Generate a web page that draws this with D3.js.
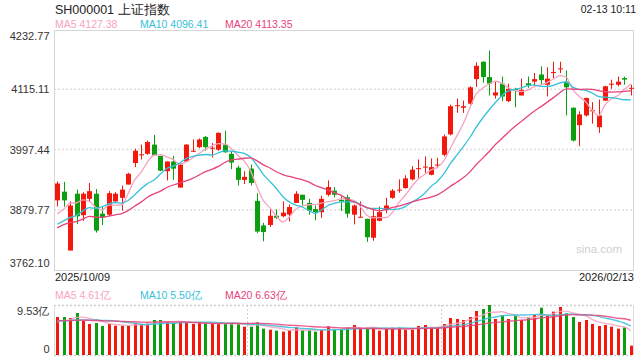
<!DOCTYPE html>
<html><head><meta charset="utf-8">
<script src="https://cdn.jsdelivr.net/npm/d3@7"></script>
<style>body{margin:0;background:#fff}svg{display:block;font-family:"Liberation Sans",Arial,sans-serif}</style>
</head><body><svg id="c" width="640" height="360"></svg>
<script>
// ---------- data ----------
const symbolTitle = "SH000001 上证指数";
const timeStamp = "02-13 10:11";
const priceTicks = [4232.77, 4115.11, 3997.44, 3879.77, 3762.10];
const volumeTicks = [0, 9.53];
const dateLabels = ["2025/10/09", "2026/02/13"];
const maNames = ["MA5", "MA10", "MA20"];
const maLegend = [4127.38, 4096.41, 4113.35];
const volMaLegend = [4.61, 5.50, 6.63];

const openP = [3898,3915,3800,3911,3869,3901,3911,3872,3870,3896,3903,3929,3971,3986,3989,4007,3985,3955,3974,3923,
3974,3993,4002,4022,3999,3997,4007,3989,3962,3938,3960,3897,3849,3850,3868,3867,3870,3893,3909,3893,
3881,3875,3909,3917,3899,3904,3870,3865,3862,3825,3858,3879,3903,3918,3922,3939,3960,3963,3948,3967,
3987,4027,4083,4079,4087,4135,4169,4139,4103,4126,4092,4116,4103,4127,4130,4144,4124,4148,4155,4130,
4079,4045,4064,4073,4041,4093,4125,4124,4137,4117];
const highP = [3935,3934,3896,3919,3914,3932,3920,3886,3916,3914,3927,3952,3999,4007,4015,4026,3985,3974,3985,3970,
4008,4017,4019,4024,4010,4031,4034,3994,3966,3955,3968,3912,3854,3881,3880,3896,3890,3916,3909,3901,
3888,3907,3937,3924,3906,3909,3890,3896,3862,3883,3886,3903,3920,3939,3947,3965,3978,3984,3980,3981,
4027,4085,4097,4093,4121,4168,4170,4191,4131,4140,4126,4118,4136,4140,4147,4160,4158,4169,4169,4152,
4080,4072,4099,4090,4095,4122,4134,4140,4140,4124];
const lowP = [3886,3886,3800,3852,3858,3895,3835,3850,3867,3894,3878,3929,3963,3978,3987,3986,3955,3937,3938,3923,
3973,3993,4000,3995,3982,3995,3991,3959,3927,3930,3927,3834,3818,3846,3862,3865,3857,3893,3888,3870,
3859,3864,3906,3904,3877,3864,3851,3865,3817,3819,3857,3873,3901,3913,3921,3937,3942,3952,3947,3961,
3984,4025,4069,4069,4085,4120,4128,4103,4097,4092,4090,4080,4103,4118,4122,4124,4101,4137,4147,4064,
4013,4004,4062,4048,4030,4092,4116,4121,4124,4103];
const closeP = [3931,3898,3888,3867,3911,3916,3839,3865,3912,3911,3919,3950,3995,3988,4012,3986,3956,3974,3960,3968,
4007,3995,4017,4002,4001,4030,3992,3972,3938,3944,3932,3837,3836,3868,3864,3874,3885,3911,3899,3878,
3875,3901,3924,3909,3896,3872,3888,3866,3826,3867,3875,3888,3917,3919,3941,3958,3961,3964,3963,3968,
4023,4082,4084,4082,4119,4161,4139,4126,4109,4101,4116,4113,4114,4123,4135,4133,4136,4149,4156,4119,
4015,4066,4098,4074,4064,4121,4126,4130,4134,4118];
const volumes = [7.24,7.24,7.05,8.00,6.54,5.91,6.10,5.53,5.91,5.59,5.59,5.59,6.04,5.91,5.97,6.67,6.67,6.35,6.16,6.35,
6.22,5.91,6.22,5.91,5.91,5.91,6.04,5.91,5.91,5.40,5.40,6.22,5.02,4.83,4.64,4.45,4.70,5.27,4.70,4.70,
4.45,4.83,5.46,4.89,4.86,5.21,5.72,5.21,5.08,5.21,4.64,5.08,5.21,5.21,4.83,4.83,5.53,5.72,5.27,5.15,
5.91,7.05,6.86,6.67,7.24,8.39,8.77,9.53,6.86,7.62,6.86,7.49,6.67,7.11,7.62,9.02,7.49,8.26,9.15,7.94,
7.24,6.29,6.67,5.91,5.53,5.72,5.40,5.02,5.27,1.78];
// closes / volumes of the 19 sessions before the window (needed for the moving averages)
const priorCloses = [3765.9,3812.5,3826.8,3807.3,3812.2,3875.3,3870.6,3860.5,3861.9,3876.3,3831.7,3820.1,3828.6,3821.8,3853.6,3853.3,3828.1,3862.5,3882.8];
const priorVolumes = [6.3,6.8,6.5,6.2,7.0,6.6,6.4,6.9,6.3,6.2,6.9,6.5,7.1,6.4,6.2,6.0,6.3,5.9,6.3];
const maPeriods = [5, 10, 20];
const holidays = ["2026-01-01", "2026-01-02"];

// ---------- trading dates ----------
const dates = [];
for (let d = new Date(Date.UTC(2025,9,9)); d <= new Date(Date.UTC(2026,1,13)); d.setUTCDate(d.getUTCDate()+1)) {
  const wd = d.getUTCDay(), s = d.toISOString().slice(0,10);
  if (wd !== 0 && wd !== 6 && !holidays.includes(s)) dates.push(s);
}
const n = closeP.length;
const cats = dates.length === n ? dates : d3.range(n).map(String);

// ---------- style ----------
const UP = "#f2180b", DOWN = "#0b9f0f";
const maColors = ["#f7a3c0", "#37c1d9", "#e8437a"];
const L = 54, R = 634;
const svg = d3.select("#c");

const x = d3.scaleBand().domain(cats).range([L, R]).padding(0);
const cx = i => x(cats[i]) + x.bandwidth() / 2;
const y = d3.scaleLinear().domain([priceTicks[4], priceTicks[0]]).range([269.9, 29.1]);
const yv = d3.scaleLinear().domain([volumeTicks[0], volumeTicks[1]]).range([355, 305]);

function movingAvg(prior, vals, p) {
  const all = prior.concat(vals), off = prior.length;
  return vals.map((_, i) => d3.mean(all.slice(off + i - p + 1, off + i + 1)));
}

// ---------- header ----------
svg.append("text").attr("x", 55).attr("y", 13.5).attr("font-size", 12.5).attr("fill", "#222").text(symbolTitle);
svg.append("text").attr("x", 636).attr("y", 13).attr("font-size", 10.5).attr("text-anchor", "end").attr("fill", "#222").text(timeStamp);
const legX = [55, 140, 225];
maNames.forEach((m, k) => {
  svg.append("text").attr("x", legX[k]).attr("y", 27.5).attr("font-size", 10.5).attr("fill", maColors[k])
    .text(m + " " + maLegend[k].toFixed(2));
});

// ---------- main panel ----------
const gridVals = priceTicks.slice(1, 4);
svg.append("g").selectAll("line").data(gridVals).join("line")
  .attr("x1", L).attr("x2", R).attr("y1", d => y(d)).attr("y2", d => y(d))
  .attr("stroke", "#dedede").attr("stroke-width", 1.5).attr("stroke-dasharray", "2,2");
svg.append("rect").attr("x", L + 0.5).attr("y", 30.5).attr("width", R - L - 1).attr("height", 240)
  .attr("fill", "none").attr("stroke", "#d6d6d6");

const yAxis = d3.axisLeft(y).tickValues(priceTicks).tickFormat(d3.format(".2f")).tickSize(0).tickPadding(4);
const ya = svg.append("g").attr("transform", `translate(${L - 0.5},0)`).call(yAxis);
ya.select(".domain").remove();
ya.selectAll("text").attr("font-size", 11).attr("fill", "#333").attr("font-family", "Liberation Sans, Arial, sans-serif")
  .attr("dy", (d, i) => i === 0 ? "0.95em" : (i === 4 ? "-0.3em" : "0.32em"));

svg.append("text").attr("x", 622).attr("y", 253).attr("font-size", 11.5).attr("text-anchor", "end").attr("fill", "#cfcfcf").text("sina.com");

const idx = d3.range(n);
const cg = svg.append("g");
cg.selectAll("line").data(idx).join("line")
  .attr("x1", i => Math.round(cx(i)) + 0.5).attr("x2", i => Math.round(cx(i)) + 0.5)
  .attr("y1", i => y(highP[i])).attr("y2", i => y(lowP[i]))
  .attr("stroke", i => closeP[i] >= openP[i] ? UP : DOWN).attr("stroke-width", 1);
cg.selectAll("rect").data(idx).join("rect")
  .attr("x", i => Math.round(cx(i)) - 2).attr("width", 5)
  .attr("y", i => y(Math.max(openP[i], closeP[i])))
  .attr("height", i => Math.max(1, Math.abs(y(openP[i]) - y(closeP[i]))))
  .attr("fill", i => closeP[i] >= openP[i] ? UP : DOWN);

const priceLine = d3.line().x((d, i) => cx(i)).y(d => y(d)).curve(d3.curveMonotoneX);
maPeriods.forEach((p, k) => {
  svg.append("path").datum(movingAvg(priorCloses, closeP, p)).attr("d", priceLine)
    .attr("fill", "none").attr("stroke", maColors[k]).attr("stroke-width", 1.3);
});

svg.append("text").attr("x", 55).attr("y", 281).attr("font-size", 11).attr("fill", "#222").text(dateLabels[0]);
svg.append("text").attr("x", 634).attr("y", 281).attr("font-size", 11).attr("text-anchor", "end").attr("fill", "#222").text(dateLabels[1]);

// ---------- volume panel ----------
maNames.forEach((m, k) => {
  svg.append("text").attr("x", legX[k]).attr("y", 299).attr("font-size", 10.5).attr("fill", maColors[k])
    .text(m + " " + volMaLegend[k].toFixed(2) + "亿");
});
svg.append("g").selectAll("line").data(volumeTicks).join("line")
  .attr("x1", L).attr("x2", R).attr("y1", d => Math.round(yv(d)) + 0.5).attr("y2", d => Math.round(yv(d)) + 0.5)
  .attr("stroke", "#cfcfcf").attr("stroke-width", 1.5).attr("stroke-dasharray", "2,2");
const thirds = [L + (R - L) / 3, L + 2 * (R - L) / 3];
svg.append("g").selectAll("line").data(thirds).join("line")
  .attr("x1", d => Math.round(d) + 0.5).attr("x2", d => Math.round(d) + 0.5).attr("y1", 305).attr("y2", 355)
  .attr("stroke", "#d0d0d0").attr("stroke-width", 1).attr("stroke-dasharray", "2,2");
[L + 0.5, R - 0.5].forEach(xx => svg.append("line").attr("x1", xx).attr("x2", xx).attr("y1", 305).attr("y2", 355).attr("stroke", "#dcdcdc"));

const va = svg.append("g").attr("transform", `translate(${L - 0.5},0)`)
  .call(d3.axisLeft(yv).tickValues(volumeTicks).tickFormat(d => d === 0 ? "0" : d.toFixed(2) + "亿").tickSize(0).tickPadding(4));
va.select(".domain").remove();
va.selectAll("text").attr("font-size", 11).attr("fill", "#333").attr("font-family", "Liberation Sans, Arial, sans-serif")
  .attr("dy", (d, i) => i === 0 ? "-0.2em" : "0.9em");

svg.append("g").selectAll("rect").data(idx).join("rect")
  .attr("x", i => Math.round(cx(i)) - 1).attr("width", 3)
  .attr("y", i => yv(volumes[i])).attr("height", i => yv(0) - yv(volumes[i]))
  .attr("fill", i => closeP[i] >= openP[i] ? UP : DOWN);

const volLine = d3.line().x((d, i) => cx(i)).y(d => yv(d)).curve(d3.curveMonotoneX);
maPeriods.forEach((p, k) => {
  svg.append("path").datum(movingAvg(priorVolumes, volumes, p)).attr("d", volLine)
    .attr("fill", "none").attr("stroke", maColors[k]).attr("stroke-width", 1.4).attr("opacity", 0.85);
});
</script></body></html>
